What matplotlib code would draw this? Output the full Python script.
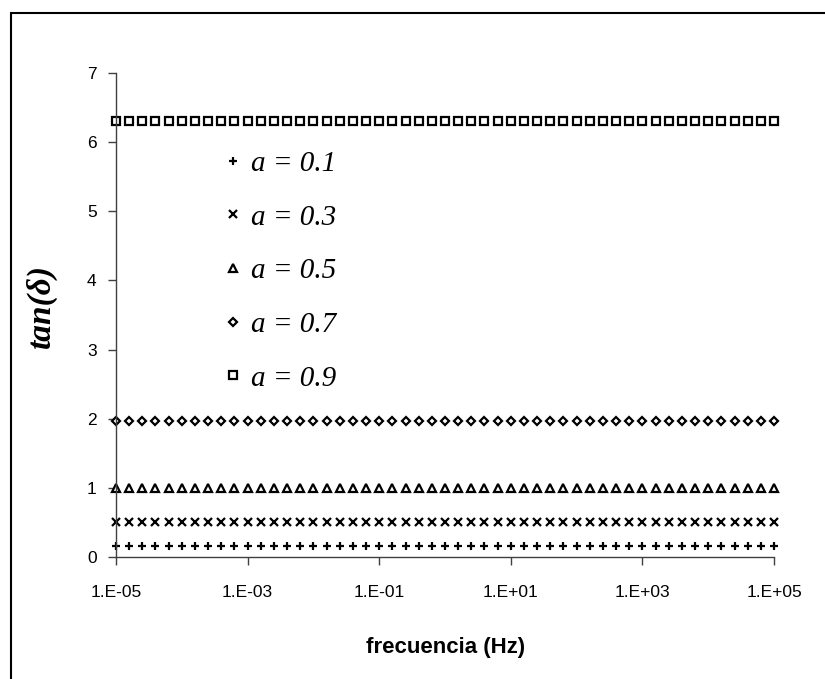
import matplotlib
matplotlib.use("Agg")
import matplotlib.pyplot as plt
import numpy as np
from matplotlib.patches import Rectangle

# frequency grid: 1E-05 .. 1E+05, 5 points per decade
freq = np.logspace(-5, 5, 51)

labels = ["a = 0.1", "a = 0.3", "a = 0.5", "a = 0.7", "a = 0.9"]
tan_vals = [0.16, 0.51, 1.00, 1.96, 6.31]
markers = ["+", "x", "^", "D", "s"]
msizes = [6.0, 5.5, 5.5, 4.2, 5.2]

xticks = [1e-5, 1e-3, 1e-1, 1e1, 1e3, 1e5]
xtick_labels = ["1.E-05", "1.E-03", "1.E-01", "1.E+01", "1.E+03", "1.E+05"]
yticks = [0, 1, 2, 3, 4, 5, 6, 7]

fig = plt.figure(figsize=(8.25, 6.79), dpi=100)
ax = fig.add_axes([0.1406, 0.1797, 0.7976, 0.7128])

for lab, val, mk, ms in zip(labels, tan_vals, markers, msizes):
    ax.plot(freq, [val] * len(freq), linestyle="none", marker=mk, ms=ms,
            mew=1.6, color="black", mfc="white", label=lab, clip_on=False)

ax.set_xscale("log")
ax.set_xlim(1e-5, 1e5)
ax.set_ylim(0, 7)
ax.set_xticks(xticks)
ax.set_xticklabels(xtick_labels)
ax.minorticks_off()
ax.set_yticks(yticks)

for lbl in ax.get_xticklabels() + ax.get_yticklabels():
    lbl.set_family("Liberation Sans")
    lbl.set_fontsize(12.5)
ax.tick_params(axis="x", direction="out", length=6, width=1, pad=14, color="#404040")
ax.tick_params(axis="y", direction="out", length=6, width=1, pad=8, color="#404040")

for s in ["top", "right"]:
    ax.spines[s].set_visible(False)
for s in ["left", "bottom"]:
    ax.spines[s].set_color("#404040")
    ax.spines[s].set_linewidth(1)

ax.set_xlabel("frecuencia (Hz)", family="Liberation Sans", weight="bold", fontsize=16)
ax.xaxis.set_label_coords(0.5015, -0.165)
ax.set_ylabel("tan(δ)", family="Liberation Serif", style="italic", weight="bold", fontsize=24)
ax.yaxis.set_label_coords(-0.09, 0.519)

leg = ax.legend(loc="upper left", bbox_to_anchor=(0.165, 0.84), frameon=False,
                prop={"family": "Liberation Serif", "style": "italic", "size": 21},
                handlelength=0.55, handletextpad=0.35, labelspacing=0.935,
                borderpad=0, borderaxespad=0)

fig.patches.append(Rectangle((11 / 825, -0.1), 2, 0.9809 + 0.1, transform=fig.transFigure,
                             fill=False, edgecolor="black", linewidth=1.5))

fig.savefig("out.png", dpi=100)
